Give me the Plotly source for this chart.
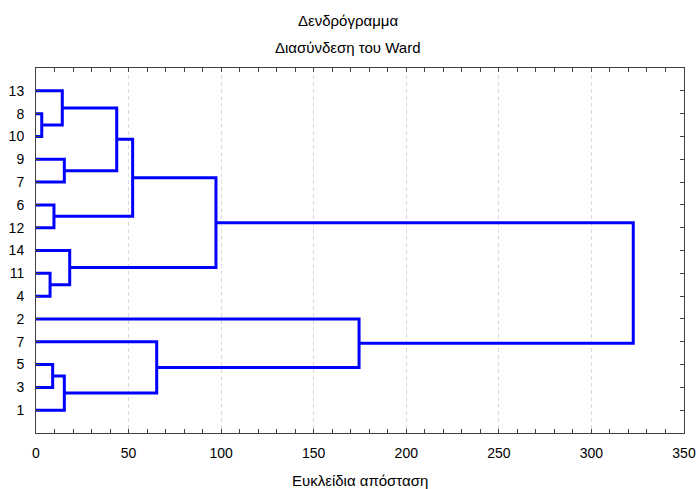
import plotly.graph_objects as go

# Leaf labels in display order (top to bottom)
leaf_labels = ["13", "8", "10", "9", "7", "6", "12", "14", "11", "4", "2", "7", "5", "3", "1"]

# Merges: (left node, right node, linkage distance); leaves are nodes 0..14, new nodes numbered from 15
merge_left = [1, 0, 3, 16, 5, 18, 8, 7, 20, 12, 24, 11, 10, 23]
merge_right = [2, 15, 4, 17, 6, 19, 9, 21, 22, 13, 14, 25, 26, 27]
merge_height = [3.1, 14.2, 15.3, 43.6, 9.7, 52.2, 7.6, 18.2, 97.2, 9.0, 15.3, 65.2, 174.5, 322.6]

n = len(leaf_labels)
ypos = {i: n - i for i in range(n)}
hpos = {i: 0.0 for i in range(n)}

xs, ys = [], []
for k, (a, b, h) in enumerate(zip(merge_left, merge_right, merge_height)):
    node = n + k
    xs += [hpos[a], h, h, hpos[b], None]
    ys += [ypos[a], ypos[a], ypos[b], ypos[b], None]
    ypos[node] = (ypos[a] + ypos[b]) / 2
    hpos[node] = h

fig = go.Figure()
fig.add_trace(go.Scatter(x=xs, y=ys, mode="lines",
                         line=dict(color="#0000FF", width=3),
                         hoverinfo="skip", showlegend=False))

font_family = "Liberation Sans, Arial, sans-serif"
fig.update_layout(
    width=697, height=489,
    margin=dict(l=36, r=13, t=68, b=56, autoexpand=False),
    paper_bgcolor="white", plot_bgcolor="white",
    font=dict(family=font_family, size=14, color="black"),
    xaxis=dict(range=[0, 350], tickvals=[0, 50, 100, 150, 200, 250, 300, 350],
               showgrid=True, gridcolor="#d9d9d9", griddash="4px,3px", gridwidth=1,
               zeroline=False, showline=True, linecolor="#404040", linewidth=1,
               mirror="ticks", ticks="inside", ticklen=4, tickcolor="#404040",
               minor=dict(dtick=10, ticks="inside", ticklen=4, tickcolor="#404040", showgrid=False),
               tickfont=dict(size=14), automargin=False, ticklabelstandoff=7),
    yaxis=dict(range=[0, 16], tickvals=[n - i for i in range(n)], ticktext=leaf_labels,
               showgrid=False, zeroline=False, showline=True, linecolor="#404040", linewidth=1,
               mirror="ticks", ticks="inside", ticklen=4, tickcolor="#404040",
               tickfont=dict(size=14), automargin=False, ticklabelstandoff=8),
    annotations=[
        dict(text="Δενδρόγραμμα", xref="paper", yref="paper", x=0.482, y=1.1315,
             xanchor="center", yanchor="middle", showarrow=False, font=dict(size=15)),
        dict(text="Διασύνδεση του Ward", xref="paper", yref="paper", x=0.482, y=1.0548,
             xanchor="center", yanchor="middle", showarrow=False, font=dict(size=15)),
        dict(text="Ευκλείδια απόσταση", xref="paper", yref="paper", x=0.5, y=-0.129,
             xanchor="center", yanchor="middle", showarrow=False, font=dict(size=15)),
    ],
)

fig.write_html("out.html")
